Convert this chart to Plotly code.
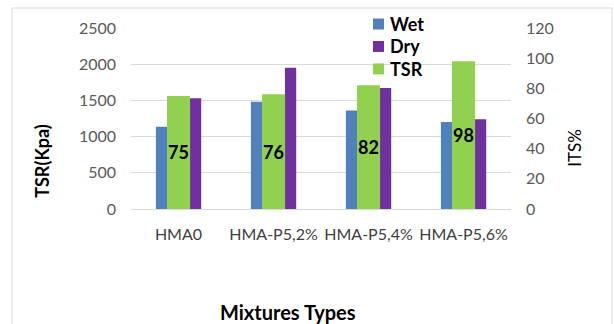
import plotly.graph_objects as go

# Mixture categories and measured strengths
categories = ["HMA0", "HMA-P5,2%", "HMA-P5,4%", "HMA-P5,6%"]
wet_kpa = [1135, 1480, 1360, 1200]
dry_kpa = [1530, 1950, 1670, 1240]
tsr_pct = [75, 76, 82, 98]

left_ticks = [0, 500, 1000, 1500, 2000, 2500]
right_ticks = [0, 20, 40, 60, 80, 100, 120]

W, H = 614, 324
L, R, T, B = 131, 511, 28, 209.3

def px_x(px):
    return (px - L) / (R - L)

def px_y(py):
    return (B - py) / (B - T)

FONT = "Lato"
BLUE = "#4F81BD"
PURPLE = "#7030A0"
GREEN = "#92D050"

series = [
    ("Wet", BLUE),
    ("Dry", PURPLE),
    ("TSR", GREEN),
]

fig = go.Figure()

fig.add_trace(go.Bar(
    x=categories, y=wet_kpa, name="Wet",
    marker=dict(color=BLUE, line=dict(width=0)),
    offset=-0.238, width=0.118, yaxis="y",
))
fig.add_trace(go.Bar(
    x=categories, y=dry_kpa, name="Dry",
    marker=dict(color=PURPLE, line=dict(width=0)),
    offset=0.121, width=0.118, yaxis="y",
))
fig.add_trace(go.Bar(
    x=categories, y=tsr_pct, name="TSR",
    marker=dict(color=GREEN, line=dict(width=0)),
    offset=-0.121, width=0.243, yaxis="y2",
    text=[str(v) for v in tsr_pct],
    textposition="inside", insidetextanchor="middle",
    textangle=0, constraintext="none",
    textfont=dict(family=FONT, size=18, color="black", weight="bold"),
))

# Hand-placed legend: small square swatches with bold labels
shapes = [dict(
    type="rect", xref="paper", yref="paper",
    x0=px_x(12), x1=px_x(612), y0=px_y(340), y1=px_y(8),
    line=dict(color="#D9D9D9", width=1), fillcolor="rgba(0,0,0,0)",
    layer="below",
)]
annotations = []
legend_rows = [24, 46.5, 69]
for (name, color), cy in zip(series, legend_rows):
    shapes.append(dict(
        type="rect", xref="paper", yref="paper",
        x0=px_x(373), x1=px_x(384), y0=px_y(cy + 5.5), y1=px_y(cy - 5.5),
        line=dict(width=0), fillcolor=color, layer="above",
    ))
    annotations.append(dict(
        text=name, xref="paper", yref="paper",
        x=px_x(388), y=px_y(cy), xanchor="left", yanchor="middle",
        showarrow=False,
        font=dict(family=FONT, size=18, color="black", weight="bold"),
    ))

annotations += [
    dict(text="TSR(Kpa)", xref="paper", yref="paper",
         x=px_x(42), y=px_y(161), xanchor="center", yanchor="middle",
         textangle=-90, showarrow=False,
         font=dict(family=FONT, size=18, color="black", weight="bold")),
    dict(text="ITS%", xref="paper", yref="paper",
         x=px_x(575), y=px_y(148), xanchor="center", yanchor="middle",
         textangle=-90, showarrow=False,
         font=dict(family=FONT, size=17, color="black")),
    dict(text="Mixtures Types", xref="paper", yref="paper",
         x=px_x(288), y=px_y(312), xanchor="center", yanchor="middle",
         showarrow=False,
         font=dict(family=FONT, size=20, color="black", weight="bold")),
]

fig.update_layout(
    width=W, height=H,
    margin=dict(l=L, r=W - R, t=T, b=H - B),
    paper_bgcolor="white", plot_bgcolor="white",
    barmode="overlay",
    font=dict(family=FONT, color="#595959"),
    showlegend=False,
    xaxis=dict(
        type="category", range=[-0.5, 3.5],
        showgrid=False, showline=False, zeroline=False,
        tickfont=dict(family=FONT, size=16, color="#404040"),
        ticks="outside", ticklen=11, tickcolor="rgba(0,0,0,0)",
    ),
    yaxis=dict(
        range=[0, 2500], tickvals=left_ticks,
        showgrid=True, gridcolor="#D9D9D9", gridwidth=1,
        zeroline=True, zerolinecolor="#D9D9D9", zerolinewidth=1,
        showline=False,
        tickfont=dict(family=FONT, size=16, color="#595959"),
        ticklabelstandoff=14,
    ),
    yaxis2=dict(
        range=[0, 120], tickvals=right_ticks,
        overlaying="y", side="right",
        showgrid=False, zeroline=False, showline=False,
        tickfont=dict(family=FONT, size=16, color="#595959"),
        ticklabelstandoff=14,
    ),
    shapes=shapes,
    annotations=annotations,
)

fig.write_html("out.html")
